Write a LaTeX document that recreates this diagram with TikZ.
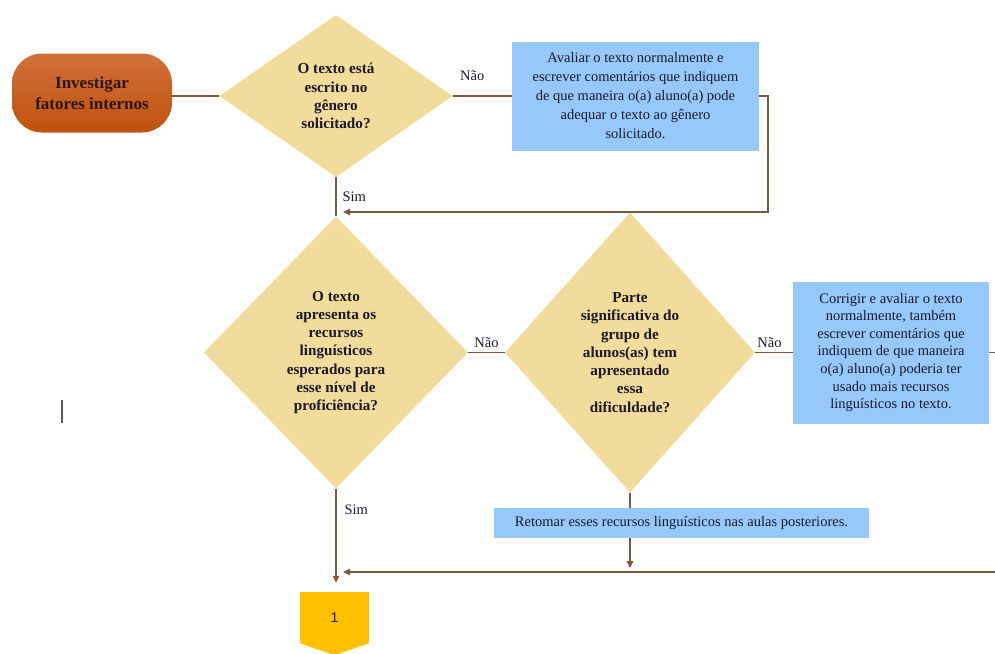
\documentclass[tikz,border=0pt]{standalone}
\usepackage{fontspec}
\setmainfont{Liberation Serif}
\setsansfont{Liberation Sans}
\usetikzlibrary{shapes.geometric,arrows.meta,calc}
\definecolor{dia}{RGB}{242,220,155}
\definecolor{bluebox}{RGB}{150,200,250}
\definecolor{lnc}{RGB}{128,86,62}
\definecolor{txt}{RGB}{25,25,40}
\definecolor{gold}{RGB}{255,192,0}
\definecolor{orgtop}{RGB}{208,112,58}
\definecolor{orgbot}{RGB}{192,82,14}
\definecolor{brn}{RGB}{45,20,8}
\begin{document}
\begin{tikzpicture}[x=1pt,y=-1pt,
  decision/.style={diamond, fill=dia, inner sep=0pt, align=center,
    font=\bfseries\fontsize{15.2}{18.3}\selectfont, text=txt},
  actbox/.style={rectangle, fill=bluebox, inner sep=0pt, align=center,
    font=\fontsize{14.5}{19}\selectfont, text=txt},
  conn/.style={draw=lnc, line width=1.1pt},
  arr/.style={conn, -{Triangle[length=7pt,width=6.5pt]}},
  lbl/.style={font=\fontsize{14.5}{16}\selectfont, text=txt, inner sep=0pt}
]
\useasboundingbox (0,0) rectangle (995,653);
\clip (0,0) rectangle (995,653);

% nodes
\node[rounded corners=30pt, top color=orgtop, bottom color=orgbot,
      minimum width=160pt, minimum height=79pt, align=center,
      font=\bfseries\fontsize{17}{21}\selectfont, text=brn] (inv) at (92,93)
      {Investigar\\fatores internos};

\node[decision, minimum width=233pt, minimum height=162pt] (d1) at (336,96)
  {O texto está\\escrito no\\gênero\\solicitado?};

\node[actbox, minimum width=247pt, minimum height=109pt] (b1) at (635.5,96)
  {Avaliar o texto normalmente e\\escrever comentários que indiquem\\de que maneira o(a) aluno(a) pode\\adequar o texto ao gênero\\solicitado.};

\node[decision, minimum width=264pt, minimum height=272pt] (d2) at (336,352.5)
  {O texto\\apresenta os\\recursos\\linguísticos\\esperados para\\esse nível de\\proficiência?};

\node[decision, minimum width=250pt, minimum height=280pt] (d3) at (630,352.5)
  {Parte\\significativa do\\grupo de\\alunos(as) tem\\apresentado\\essa\\dificuldade?};

\node[actbox, font=\fontsize{14.5}{17.6}\selectfont, minimum width=196pt, minimum height=142pt] (b2) at (891,352.5)
  {Corrigir e avaliar o texto\\normalmente, também\\escrever comentários que\\indiquem de que maneira\\o(a) aluno(a) poderia ter\\usado mais recursos\\linguísticos no texto.};

\node[actbox, minimum width=375pt, minimum height=30pt] (b3) at (681.5,523)
  {Retomar esses recursos linguísticos nas aulas posteriores.};

\node[fill=gold, minimum width=69pt, minimum height=51pt, inner sep=0pt,
      font=\sffamily\fontsize{14}{16}\selectfont, text=txt] (c1) at (334.5,617.5) {1};
\fill[gold] (c1.south west) -- (c1.south east) -- ($(c1.south)+(0,12)$) -- cycle;

% helper coordinates
\coordinate (r1) at (768,212);
\coordinate (j1) at (336,212);
\coordinate (r2) at (1005,572);
\coordinate (j2) at (336,572);
\coordinate (j3) at (630,572);

% connectors
\draw[conn] (inv.east |- d1.west) -- (d1.west);
\draw[conn] (d1.east) -- node[lbl, pos=0.33, above=15pt] (n1) {Não} (b1.west);
\draw[arr, shorten >=7pt] (b1.east) -| (r1) -- (j1);
\draw[conn] (d1.south) -- node[lbl, pos=0.5, right=6pt] (s1) {Sim} (d2.north);
\draw[conn] (d2.east) -- node[lbl, midway, above=4pt] (n2) {Não} (d3.west);
\draw[conn] (d3.east) -- node[lbl, pos=0.38, above=4pt] (n3) {Não} (b2.west);
\draw[arr, shorten >=7pt] (b2.east) -| (r2) -- (j2);
\draw[conn] (d3.south) -- (d3.south |- b3.north);
\draw[arr, shorten >=4pt] (b3.south -| d3.south) -- (j3);
\draw[arr, shorten >=9pt] (d2.south) -- node[lbl, pos=0.2, right=8pt] (s2) {Sim} (d2.south |- c1.north);

% stray cursor mark
\draw[gray!70!black, line width=1.5pt] (62,400) -- (62,423);
\end{tikzpicture}
\end{document}
